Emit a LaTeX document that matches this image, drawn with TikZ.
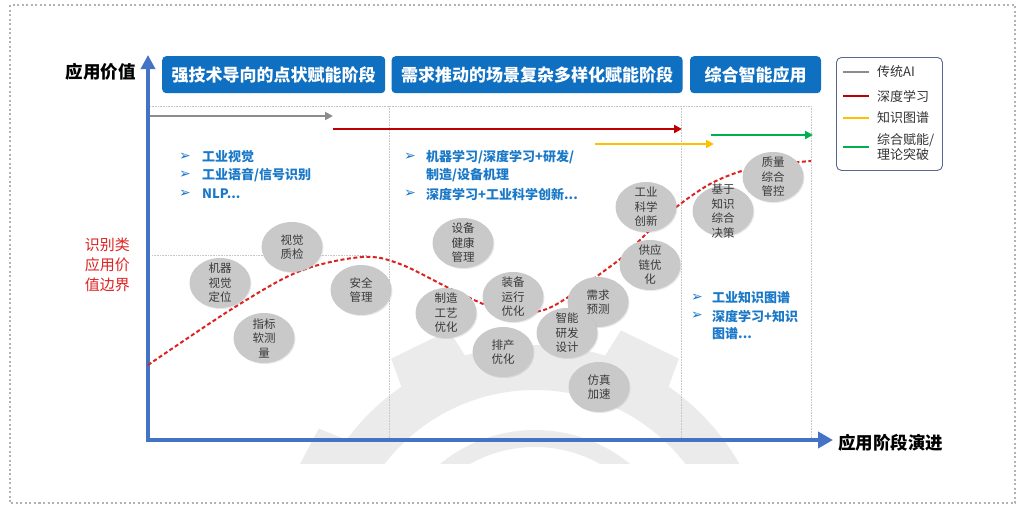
\documentclass[tikz,border=0pt]{standalone}
\usepackage{fontspec}
\setmainfont{Noto Sans CJK SC}
\newfontfamily\symfont{DejaVu Sans}
\usepackage{xcolor}
\usepackage{tikz}
\usetikzlibrary{arrows.meta,positioning,shapes.geometric,shadows}
\definecolor{hdrblue}{HTML}{0F6FC0}
\definecolor{axisblue}{HTML}{4472C4}
\definecolor{txtblue}{HTML}{1A78C8}
\definecolor{bubble}{HTML}{C9C9C9}
\definecolor{bubtxt}{HTML}{3A3A3A}
\definecolor{dlred}{HTML}{C00000}
\definecolor{curvered}{HTML}{DE2222}
\definecolor{kgyellow}{HTML}{FFC000}
\definecolor{mixgreen}{HTML}{00B050}
\definecolor{aigray}{HTML}{8C8C8C}
\definecolor{gearbg}{HTML}{EBEBEB}
\definecolor{legframe}{HTML}{56688F}
\newcommand{\bulletarrow}{{\symfont ➢}}

\begin{document}
\begin{tikzpicture}[x=1pt,y=-1pt,
  phase/.style={rounded corners=4pt,fill=hdrblue,text=white,minimum height=37pt,
               inner sep=0pt,font=\fontsize{17}{20}\selectfont\bfseries},
  bubblenode/.style={ellipse,fill=bubble,minimum width=61pt,minimum height=50pt,inner sep=0pt,
               drop shadow={opacity=0.18,shadow xshift=1pt,shadow yshift=-1pt}},
  bubbletext/.style={align=center,text=bubtxt,inner sep=0pt,font=\fontsize{11.5}{14.5}\selectfont},
  bulletmark/.style={text=txtblue,inner sep=0pt,font=\fontsize{14}{16}\selectfont},
  bullettext/.style={anchor=west,text=txtblue,inner sep=0pt,font=\fontsize{13}{16}\selectfont\bfseries},
  stagearr/.style={line width=2.6pt,-{Triangle[length=8pt,width=8pt]}},
  guide/.style={draw=gray!45,densely dotted,line width=0.6pt},
  legtext/.style={anchor=west,inner sep=0pt,align=left,text=black!80,font=\fontsize{13}{15}\selectfont}
]
\useasboundingbox (0,0) rectangle (1032,512);
\draw[gray!60,line width=1.6pt,dash pattern=on 2pt off 2.5pt] (10,5) rectangle (1015,503);

% gear watermark
\begin{scope}
  \clip (150,300) rectangle (811,463);
  \fill[gearbg,even odd rule] (535,580) circle[radius=235] (535,580) circle[radius=190];
  \fill[gearbg,even odd rule] (535,580) circle[radius=150] (535,580) circle[radius=133];
  \foreach \a in {64,116,152}
    \fill[gearbg,shift={(535,580)}] (-\a-9:230) -- (-\a-7:264) -- (-\a+7:264) -- (-\a+9:230) -- cycle;
\end{scope}

% stage guides
\draw[guide] (150,106) -- (811,106);
\draw[guide] (389,106) -- (389,440);
\draw[guide] (681,106) -- (681,440);
\draw[guide] (811,106) -- (811,440);
\draw[guide] (152,255) -- (368,255);

% headers
\node[phase,minimum width=223pt,anchor=north west] (hdr1) at (162,56) {强技术导向的点状赋能阶段};
\node[phase,minimum width=291pt,right=6pt of hdr1] (hdr2) {需求推动的场景复杂多样化赋能阶段};
\node[phase,minimum width=131pt,right=7pt of hdr2] (hdr3) {综合智能应用};

% axes
\coordinate (origin) at (148,440);
\coordinate (ytop) at (148,55);
\coordinate (xend) at (833,440);
\draw[draw=axisblue,line width=4.5pt,
      {Triangle[length=14pt,width=14pt]}-{Triangle[length=15pt,width=16pt]}] (ytop) -- (origin) -- (xend);
\node[anchor=east,inner sep=0pt,font=\fontsize{17.5}{20}\selectfont\bfseries] (yname) at (136,72) {应用价值};
\node[anchor=west,inner sep=0pt,font=\fontsize{17.5}{20}\selectfont\bfseries] (xname) at (838,443) {应用阶段演进};
\node[anchor=east,inner sep=0pt,align=right,text=curvered,font=\fontsize{15}{20}\selectfont] (bound) at (130,265) {识别类\\应用价\\值边界};

% technology arrows
\coordinate (ai-a) at (150,116);  \coordinate (ai-b) at (333,116);
\coordinate (dl-a) at (333,129);  \coordinate (dl-b) at (682,129);
\coordinate (kg-a) at (595,144);  \coordinate (kg-b) at (714,144);
\coordinate (mx-a) at (711,135);  \coordinate (mx-b) at (813,135);
\draw[stagearr,aigray] (ai-a) -- (ai-b);
\draw[stagearr,dlred] (dl-a) -- (dl-b);
\draw[stagearr,kgyellow] (kg-a) -- (kg-b);
\draw[stagearr,mixgreen] (mx-a) -- (mx-b);

% bullet lists
\node[bulletmark] (m11) at (185,157) {\bulletarrow};
\node[bullettext] (t11) at (202,157) {工业视觉};
\node[bulletmark] (m12) at (185,175) {\bulletarrow};
\node[bullettext] (t12) at (202,175) {工业语音/信号识别};
\node[bulletmark] (m13) at (185,194) {\bulletarrow};
\node[bullettext] (t13) at (202,194) {NLP...};

\node[bulletmark] (m21) at (410,157) {\bulletarrow};
\node[bullettext] (t21) at (426,157) {机器学习/深度学习+研发/};
\node[bullettext] (t22) at (426,175) {制造/设备机理};
\node[bulletmark] (m23) at (410,194) {\bulletarrow};
\node[bullettext] (t23) at (426,194) {深度学习+工业科学创新...};

\node[bulletmark] (m31) at (697,298) {\bulletarrow};
\node[bullettext] (t31) at (712,298) {工业知识图谱};
\node[bulletmark] (m32) at (697,316) {\bulletarrow};
\node[bullettext] (t32) at (712,316) {深度学习+知识};
\node[bullettext] (t33) at (712,334) {图谱...};

% value curve
\draw[curvered,line width=2pt,dash pattern=on 4pt off 2.5pt] plot[smooth,tension=0.55] coordinates {
  (148,365) (235,307) (300,271) (362,257) (400,264) (453,290) (500,310) (540,311)
  (570,296) (600,274) (625,255) (648,232) (675,208) (710,184) (745,170) (780,164) (811,161)};

% application bubbles
\foreach \nm/\pos/\txt in {
  vpos/{(220,283)}/{机器\\视觉\\定位},
  vqc/{(292,247)}/{视觉\\质检},
  softm/{(264,338)}/{指标\\软测\\量},
  safety/{(361,290)}/{安全\\管理},
  health/{(463,243)}/{设备\\健康\\管理},
  process/{(446,313)}/{制造\\工艺\\优化},
  equip/{(513,297)}/{装备\\运行\\优化},
  sched/{(503,352)}/{排产\\优化},
  demand/{(598,302)}/{需求\\预测},
  rnd/{(567,333)}/{智能\\研发\\设计},
  sim/{(599,387)}/{仿真\\加速},
  sci/{(646,207)}/{工业\\科学\\创新},
  supply/{(650,265)}/{供应\\链优\\化},
  kdec/{(723,211)}/{基于\\知识\\综合\\决策},
  qctrl/{(773,177)}/{质量\\综合\\管控}}{
  \node[bubblenode] (\nm) at \pos {};
  \node[bubbletext] (\nm-t) at (\nm) {\txt};
}

% legend
\node[draw=legframe,line width=0.9pt,rounded corners=5pt,minimum width=106pt,minimum height=113pt,
      inner sep=0pt,anchor=north west] (legend) at (836,57) {};
\foreach \c/\y/\t in {aigray/72/传统AI, dlred/96/深度学习, kgyellow/118/知识图谱, mixgreen/147/{综合赋能/\\理论突破}}{
  \coordinate (\c-a) at (843,\y);
  \coordinate (\c-b) at (869,\y);
  \draw[\c,line width=2pt] (\c-a) -- (\c-b);
  \node[legtext] (\c-t) at (877,\y) {\t};
}
\end{tikzpicture}
\end{document}
